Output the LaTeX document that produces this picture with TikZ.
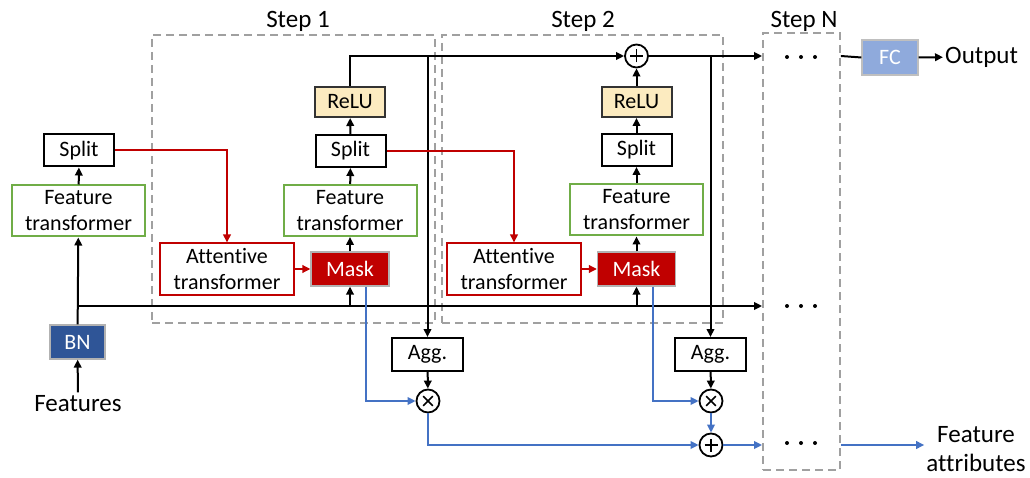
\documentclass[tikz,border=0pt]{standalone}
\usepackage{fontspec}
\setmainfont[Ligatures=NoCommon]{Carlito}
\usetikzlibrary{arrows.meta,calc}

\definecolor{ftgreen}{HTML}{70AD47}
\definecolor{atred}{HTML}{C00000}
\definecolor{bnblue}{HTML}{2F5597}
\definecolor{fcblue}{HTML}{8FAADC}
\definecolor{reluyellow}{HTML}{FCEBC0}
\definecolor{attrblue}{HTML}{4472C4}
\definecolor{framegray}{HTML}{A0A0A0}

\tikzset{
  boxtext/.style={font=\fontsize{22}{26}\selectfont},
  lbltext/.style={font=\fontsize{25}{29}\selectfont},
  blockbox/.style={draw=black, line width=2pt, inner sep=0pt, align=center, boxtext},
  ftbox/.style={blockbox, draw=ftgreen, minimum width=133pt, minimum height=51pt},
  atbox/.style={blockbox, draw=atred, minimum width=134pt, minimum height=51pt},
  splitbox/.style={blockbox, minimum width=70pt, minimum height=32pt},
  relubox/.style={blockbox, draw=black!80, fill=reluyellow, minimum width=70pt, minimum height=30pt},
  maskbox/.style={blockbox, line width=1.2pt, draw=black!30, fill=atred, text=white, minimum width=78pt, minimum height=34pt},
  aggbox/.style={blockbox, minimum width=71pt, minimum height=33pt},
  opnode/.style={circle, draw=black, line width=1.8pt, minimum size=23pt, inner sep=0pt},
  plusop/.style={opnode, path picture={
      \draw[line width=1.5pt]
        ([xshift=-6.5pt]path picture bounding box.center) -- ([xshift=6.5pt]path picture bounding box.center)
        ([yshift=-6.5pt]path picture bounding box.center) -- ([yshift=6.5pt]path picture bounding box.center);}},
  timesop/.style={opnode, path picture={
      \draw[line width=1.5pt]
        ([shift={(-4.8pt,-4.8pt)}]path picture bounding box.center) -- ([shift={(4.8pt,4.8pt)}]path picture bounding box.center)
        ([shift={(-4.8pt,4.8pt)}]path picture bounding box.center) -- ([shift={(4.8pt,-4.8pt)}]path picture bounding box.center);}},
  stepframe/.style={draw=framegray, line width=1.8pt, dash pattern=on 8pt off 5pt},
  wire/.style={draw=black, line width=2pt},
  flow/.style={wire, -{Triangle[length=8pt,width=7.5pt]}},
  redflow/.style={flow, draw=atred},
  blueflow/.style={flow, draw=attrblue},
  dotmark/.style={fill=black},
}

\begin{document}
\begin{tikzpicture}[x=1pt,y=-1pt]
\useasboundingbox (0,0) rectangle (1030,478);

% step frames and their titles
\node[stepframe, minimum width=283pt, minimum height=288pt] (s1) at (293.5,179) {};
\node[stepframe, minimum width=281pt, minimum height=288pt] (s2) at (582.5,179) {};
\node[stepframe, minimum width=77pt, minimum height=437pt] (sN) at (801.5,251.5) {};
\node[lbltext] (t1) at (298,21) {Step 1};
\node[lbltext] (t2) at (583,21) {Step 2};
\node[lbltext] (tN) at (804,21) {Step N};

% input stage
\node[lbltext] (feat) at (78,404) {Features};
\node[blockbox, line width=1.2pt, draw=black!30, fill=bnblue, text=white, minimum width=55pt, minimum height=34pt] (bn) at (77.5,342) {BN};
\node[ftbox] (ftL) at (78.5,211) {Feature\\transformer};
\node[splitbox] (splitL) at (79,150.5) {Split};

% step 1
\node[atbox] (at1) at (227,269) {Attentive\\transformer};
\node[maskbox] (mask1) at (350,269) {Mask};
\node[ftbox] (ft1) at (350,210.5) {Feature\\transformer};
\node[splitbox] (split1) at (350.5,151) {Split};
\node[relubox] (relu1) at (350,102) {ReLU};
\node[aggbox] (agg1) at (427.5,354.5) {Agg.};
\node[timesop] (times1) at (428,401) {};

% step 2
\node[atbox] (at2) at (514,269) {Attentive\\transformer};
\node[maskbox] (mask2) at (636.5,269) {Mask};
\node[ftbox] (ft2) at (636.5,210) {Feature\\transformer};
\node[splitbox] (split2) at (636.5,150) {Split};
\node[relubox] (relu2) at (636.5,102) {ReLU};
\node[plusop] (plus) at (636.5,56) {};
\node[aggbox] (agg2) at (710.5,354.5) {Agg.};
\node[timesop] (times2) at (711,401) {};
\node[plusop] (plus2) at (711,445) {};

% step N and outputs
\foreach \yy in {57,306,443} {
  \foreach \xx in {787,801,815} \fill[dotmark] (\xx,\yy) circle (2pt);
}
\node[blockbox, line width=1.2pt, draw=black!25, fill=fcblue, text=white, minimum width=56pt, minimum height=35pt] (fc) at (890,57.5) {FC};
\node[lbltext, anchor=west, inner sep=2pt] (out) at (943,57) {Output};
\node[lbltext, align=center, inner sep=2pt] (attr) at (976,449) {Feature\\attributes};

% input path and shared feature line
\draw[flow] (feat) -- (bn);
\draw[flow] (bn) -- (ftL);
\coordinate (fork) at (77.5,306);
\draw[flow] (fork) -- (sN.west |- fork);
\draw[flow] (ftL) -- (splitL);
\draw[redflow] (splitL.east) -| (at1.north);

% step 1 wiring
\draw[redflow] (at1) -- (mask1);
\draw[flow] (mask1 |- fork) -- (mask1);
\draw[flow] (mask1) -- (ft1);
\draw[flow] (ft1) -- (split1);
\draw[flow] (split1) -- (relu1);
\draw[flow] (relu1.north) |- (plus.west);
\draw[flow] (agg1.north |- plus) -- (agg1.north);
\draw[redflow] (split1.east) -| (at2.north);
\draw[flow] (agg1) -- (times1);
\draw[blueflow] ([xshift=16pt]mask1.south) |- (times1.west);
\draw[blueflow] (times1.south) |- (plus2.west);

% step 2 wiring
\draw[redflow] (at2) -- (mask2);
\draw[flow] (mask2 |- fork) -- (mask2);
\draw[flow] (mask2) -- (ft2);
\draw[flow] (ft2) -- (split2);
\draw[flow] (split2) -- (relu2);
\draw[flow] (relu2) -- (plus);
\draw[flow] (plus.east) -- (sN.west |- plus);
\draw[flow] (agg2.north |- plus) -- (agg2.north);
\draw[flow] (agg2) -- (times2);
\draw[blueflow] ([xshift=16pt]mask2.south) |- (times2.west);
\draw[blueflow] (times2) -- (plus2);
\draw[blueflow] (plus2.east) -- (sN.west |- plus2);

% outputs
\draw[wire] (sN.east |- plus) -- (fc.west);
\draw[flow] (fc) -- (out);
\draw[blueflow] (sN.east |- plus2) -- (attr.west |- plus2);
\end{tikzpicture}
\end{document}
